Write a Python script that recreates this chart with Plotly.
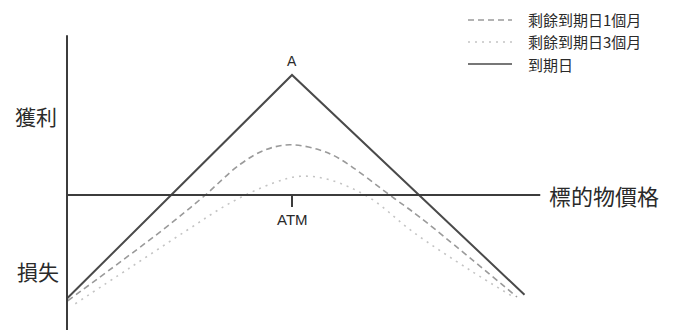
import plotly.graph_objects as go

# ---- data (price units, payoff units) ----
price_expiry = [70, 100, 131]
payoff_expiry = [-13.8, 16, -13.3]

price_1m = [70.1, 82.7, 88.1, 93.1, 96.4, 99.7, 103.7, 106.4, 113.7, 117.1, 130.0]
payoff_1m = [-14.1, -4.7, -0.3, 4.1, 6.0, 6.7, 6.0, 4.8, -0.5, -3.0, -13.6]

price_3m = [71.1, 78.4, 86.0, 91.7, 97.5, 101.1, 105.1, 110.4, 116.1, 123.7, 129.7]
payoff_3m = [-14.5, -9.7, -4.7, -1.1, 1.6, 2.5, 2.0, -0.4, -4.9, -10.0, -13.7]

atm_price = 100
axis_price_start = 70
axis_price_end = 133.1
axis_payoff_top = 21.3

legend_labels = ["剩餘到期日1個月", "剩餘到期日3個月", "到期日"]
axis_label_x = "標的物價格"
profit_label = "獲利"
loss_label = "損失"

CJK = "Noto Sans CJK TC"
C_SOLID = "#4a4a4a"
C_DASH = "#9a9a9a"
C_DOT = "#c4c4c4"
C_AXIS = "#3c3c3c"
C_TEXT = "#2a2a2a"

# page body has an 8px margin; the figure is sized to fit the 676x330 window
OFF = 8
W, H = 676 - OFF, 330 - OFF


def px(xr):
    return (xr - OFF) / W


def py(yr):
    return 1 - (yr - OFF) / H


fig = go.Figure()
fig.add_trace(go.Scatter(x=price_3m, y=payoff_3m, mode="lines",
                         line=dict(color=C_DOT, width=1.6, dash="2px,5px", shape="spline", smoothing=1.0),
                         showlegend=False, hoverinfo="skip"))
fig.add_trace(go.Scatter(x=price_1m, y=payoff_1m, mode="lines",
                         line=dict(color=C_DASH, width=1.6, dash="6px,4px", shape="spline", smoothing=1.0),
                         showlegend=False, hoverinfo="skip"))
fig.add_trace(go.Scatter(x=price_expiry, y=payoff_expiry, mode="lines",
                         line=dict(color=C_SOLID, width=2),
                         showlegend=False, hoverinfo="skip"))

# axes
fig.add_shape(type="line", xref="x", yref="y", x0=axis_price_start, x1=axis_price_start,
              y0=-18, y1=axis_payoff_top, line=dict(color=C_AXIS, width=2))
fig.add_shape(type="line", xref="x", yref="y", x0=axis_price_start, x1=axis_price_end,
              y0=0, y1=0, line=dict(color=C_AXIS, width=2))
# ATM tick
fig.add_shape(type="line", xref="x", yref="y", x0=atm_price, x1=atm_price,
              y0=0, y1=-1.6, line=dict(color=C_AXIS, width=2))

# texts
fig.add_annotation(x=atm_price, y=payoff_expiry[1], xref="x", yref="y", text="A",
                   showarrow=False, yanchor="bottom", yshift=4,
                   font=dict(family="Liberation Sans", size=14, color=C_TEXT))
fig.add_annotation(x=atm_price, y=-1.6, xref="x", yref="y", text="ATM",
                   showarrow=False, yanchor="top", yshift=-2,
                   font=dict(family="Liberation Sans", size=15, color=C_TEXT))
fig.add_annotation(x=axis_price_end, y=0, xref="x", yref="y", text=axis_label_x,
                   showarrow=False, xanchor="left", yanchor="middle", xshift=7,
                   font=dict(family=CJK, size=22, color=C_TEXT))
fig.add_annotation(x=px(36), y=py(116), xref="paper", yref="paper", text=profit_label,
                   showarrow=False, xanchor="center", yanchor="middle",
                   font=dict(family=CJK, size=21, color=C_TEXT))
fig.add_annotation(x=px(38), y=py(271), xref="paper", yref="paper", text=loss_label,
                   showarrow=False, xanchor="center", yanchor="middle",
                   font=dict(family=CJK, size=21, color=C_TEXT))

# manual legend: line samples + labels
leg_styles = [(C_DASH, "6px,4px"), (C_DOT, "2px,5px"), (C_SOLID, "solid")]
leg_rows = [20, 42, 64]
for (col, dsh), lab, ry in zip(leg_styles, legend_labels, leg_rows):
    fig.add_shape(type="line", xref="paper", yref="paper", x0=px(468), x1=px(512),
                  y0=py(ry), y1=py(ry), line=dict(color=col, width=1.6, dash=dsh))
    fig.add_annotation(x=px(526), y=py(ry), xref="paper", yref="paper", text=lab,
                       showarrow=False, xanchor="left", yanchor="middle",
                       font=dict(family=CJK, size=15, color=C_TEXT))

fig.update_layout(
    width=W, height=H,
    margin=dict(l=0, r=0, t=0, b=0),
    paper_bgcolor="white", plot_bgcolor="white",
    xaxis=dict(range=[100 - (292 - OFF) / 7.5, 100 + (676 - 292) / 7.5], visible=False, fixedrange=True),
    yaxis=dict(range=[-(330 - 195) / 7.5, (195 - OFF) / 7.5], visible=False, fixedrange=True),
    showlegend=False,
)
fig.write_html("out.html")
